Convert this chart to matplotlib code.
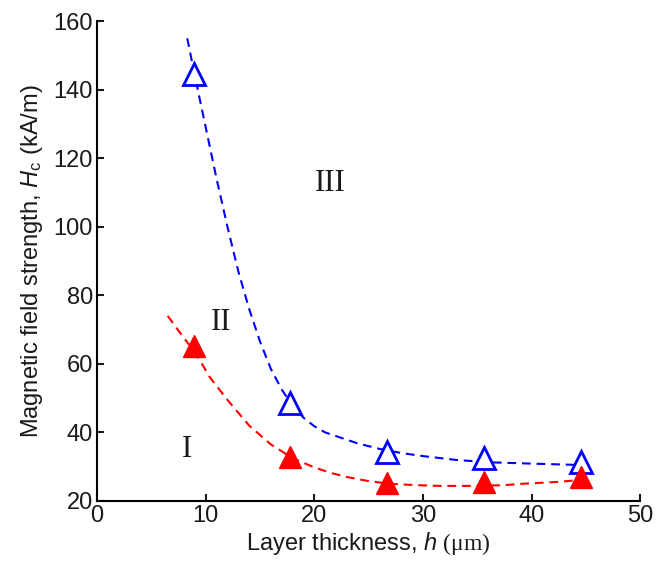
import matplotlib
matplotlib.use("Agg")
import matplotlib.pyplot as plt

plt.rcParams['font.family'] = ['Liberation Sans', 'DejaVu Sans']
plt.rcParams['mathtext.fontset'] = 'custom'
plt.rcParams['mathtext.rm'] = 'Liberation Serif'
plt.rcParams['mathtext.it'] = 'Liberation Sans:italic'
plt.rcParams['mathtext.sf'] = 'Liberation Sans'

# measured points
thickness = [8.9, 17.8, 26.7, 35.6, 44.5]
hc_upper = [144.5, 48.5, 34.3, 32.4, 31.5]   # open blue triangles
hc_lower = [65.2, 32.8, 25.2, 25.5, 27.0]    # filled red triangles

# dashed fit curves
fit_upper_x = [8.3, 9, 10, 11, 12, 13, 14, 15, 16, 17, 18, 19, 20, 21, 22.4,
               24, 26, 28, 30, 33, 36, 40, 44.5]
fit_upper_y = [155, 144, 129, 114, 100, 87, 76, 66.5, 58.5, 52.5, 47.8, 44.3,
               41.8, 40, 38.5, 36.8, 35.2, 34, 33.1, 32, 31.3, 30.9, 30.5]
fit_lower_x = [6.5, 8, 9, 10.4, 12, 14, 16, 18, 20, 21.5, 23, 25, 27, 29.6,
               31.6, 34, 37.4, 39, 42.6, 45]
fit_lower_y = [74, 67.5, 63.5, 56, 49.5, 42, 36.5, 32.5, 29.8, 28.2, 27, 25.8,
               25, 24.6, 24.4, 24.4, 24.6, 25, 25.6, 26.3]

region_labels = ['I', 'II', 'III']
region_x = [8.3, 11.4, 21.5]
region_y = [35, 72, 112.5]

fig = plt.figure(figsize=(6.56, 5.71), dpi=100)
ax = fig.add_axes([0.148, 0.1226, 0.828, 0.8404])

ax.plot(fit_upper_x, fit_upper_y, color='#0000ff', lw=1.5, dashes=(4.2, 2.8))
ax.plot(fit_lower_x, fit_lower_y, color='#ff0000', lw=1.5, dashes=(4.2, 2.8))
ax.plot(thickness, hc_upper, ls='none', marker='^', ms=16,
        mfc='white', mec='#0000ff', mew=2)
ax.plot(thickness, hc_lower, ls='none', marker='^', ms=16,
        mfc='#ff0000', mec='#ff0000', mew=1)

for lab, x, y in zip(region_labels, region_x, region_y):
    ax.text(x, y, lab, family='Liberation Serif', fontsize=22,
            color='#1a1a1a', ha='center', va='center')

ax.set_xlim(0, 50)
ax.set_ylim(20, 160)
ax.set_xticks([0, 10, 20, 30, 40, 50])
ax.set_yticks([20, 40, 60, 80, 100, 120, 140, 160])
ax.spines['top'].set_visible(False)
ax.spines['right'].set_visible(False)
for s in ('left', 'bottom'):
    ax.spines[s].set_linewidth(1.5)
ax.tick_params(direction='in', length=5, width=1.5, labelsize=17, pad=3,
               colors='#1a1a1a')

ax.set_xlabel(r'Layer thickness, $h$ $\mathrm{(μm)}$', fontsize=17, labelpad=2,
              color='#1a1a1a')
ax.set_ylabel(r'Magnetic field strength, $H_{\mathsf{c}}$ (kA/m)', fontsize=17,
              labelpad=6, color='#1a1a1a')

fig.savefig('out.png', dpi=100)
